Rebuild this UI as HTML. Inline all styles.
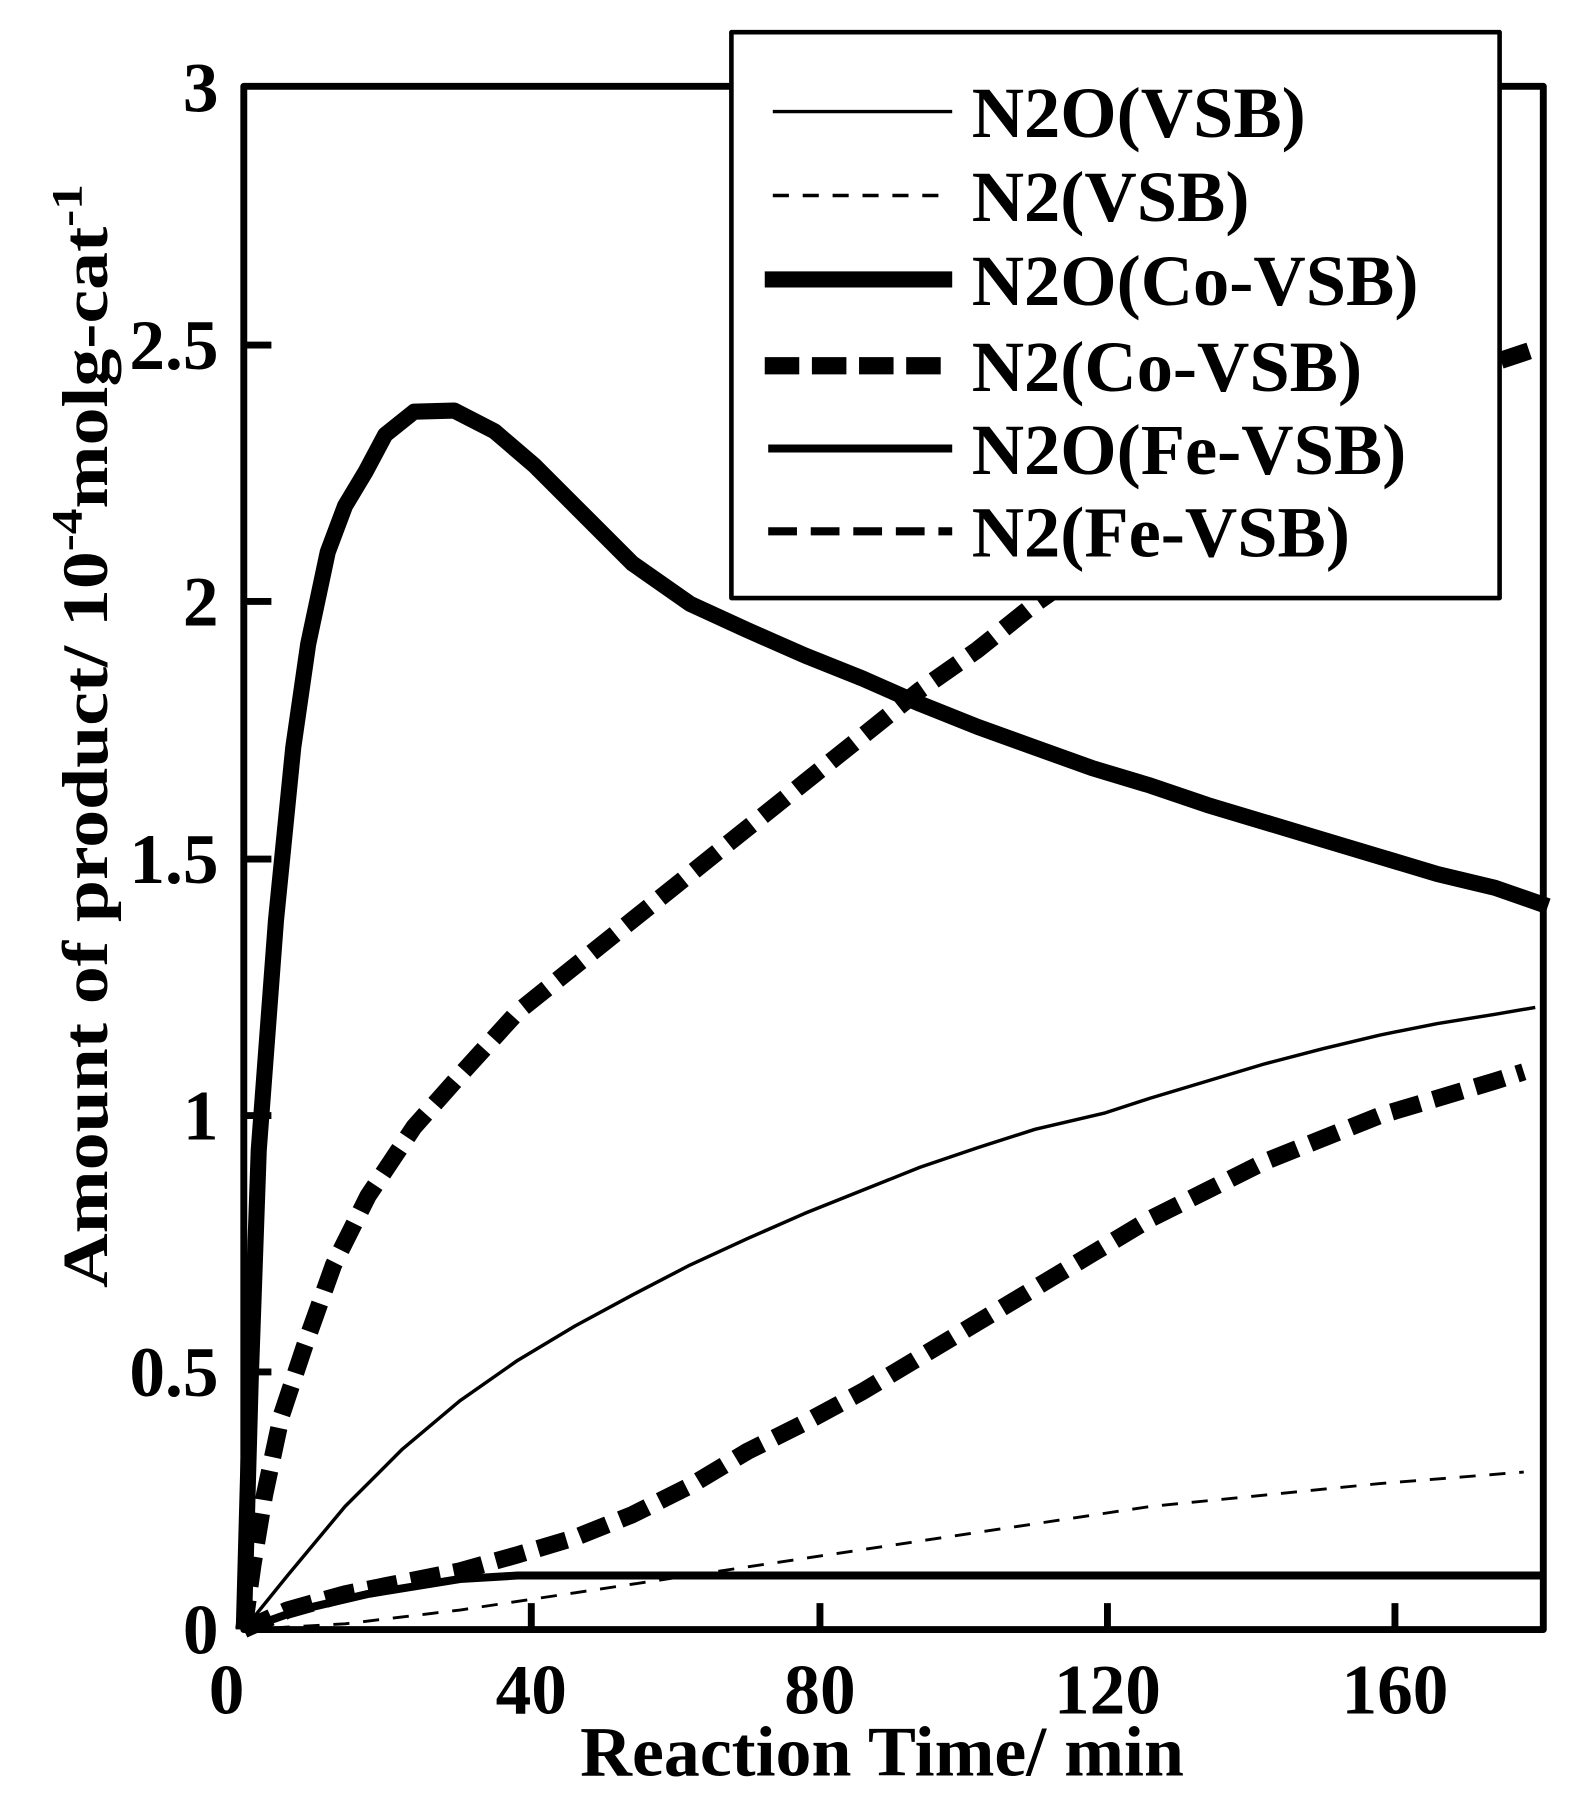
<!DOCTYPE html>
<html><head><meta charset="utf-8"><style>html,body{margin:0;padding:0;background:#fff}svg{display:block}</style></head>
<body>
<svg width="1587" height="1809" viewBox="0 0 1380 1573" xmlns="http://www.w3.org/2000/svg" font-family="'Liberation Serif', serif" font-weight="bold">
<rect x="0" y="0" width="1380" height="1573" fill="#fff"/>
<g fill="none" stroke="#000" stroke-linejoin="round">
<polyline stroke-width="2.5" stroke-dasharray="14 12" points="212,1417 300,1412 400,1400 500,1385 600,1370 700,1355 800,1340 900,1325 1000,1310 1100,1300 1200,1290 1325,1280"/>
<polyline stroke-width="3" points="212,1417 250,1370 300,1310 350,1260 400,1218 450,1183 500,1153 550,1126 600,1100 650,1077 700,1055 750,1035 800,1015 850,998 900,982 960,968 1000,955 1050,940 1100,925 1150,912 1200,900 1250,890 1300,882 1335,876"/>
<polyline stroke-width="7" points="212,1417 260,1400 320,1386 400,1373 450,1370 1342,1370"/>
<polyline stroke-width="15" stroke-dasharray="26 12" points="212,1417 250,1400 300,1386 350,1376 400,1366 450,1352 500,1337 550,1317 600,1292 650,1262 700,1237 750,1210 800,1180 850,1150 900,1120 950,1090 1000,1060 1050,1035 1100,1010 1150,990 1200,970 1250,955 1300,940 1325,932"/>
<polyline stroke-width="15" stroke-dasharray="26 12" points="212,1417 220,1360 230,1300 245,1230 265,1170 290,1100 320,1040 360,980 400,935 450,880 500,840 550,800 600,760 650,720 700,680 750,640 800,600 850,565 900,525 950,490 1000,455 1050,425 1100,400 1150,372 1200,352 1250,332 1300,315 1330,305"/>
<polyline stroke-width="14" points="212,1417 218,1200 225,1000 240,800 255,650 268,560 285,480 300,440 318,410 335,378 360,358 395,357 430,375 465,405 500,440 550,490 600,525 650,548 700,570 750,590 800,612 850,632 900,650 950,668 1000,683 1050,700 1100,715 1150,730 1200,745 1250,760 1300,772 1346,788"/>
<rect x="212" y="75" width="1130" height="1342" stroke-width="6"/>
<path stroke-width="6" d="M212,300H236M212,523H236M212,747H236M212,970H236M212,1193H236M462,1417V1394M713,1417V1394M963,1417V1394M1213,1417V1394"/>
<rect x="636" y="28" width="668" height="492" fill="#fff" stroke-width="4"/>
<line x1="672" y1="97" x2="828" y2="97" stroke-width="3"/>
<line x1="672" y1="170" x2="828" y2="170" stroke-width="3" stroke-dasharray="14 12"/>
<line x1="665" y1="243" x2="828" y2="243" stroke-width="14"/>
<line x1="665" y1="318" x2="828" y2="318" stroke-width="15" stroke-dasharray="30 11"/>
<line x1="668" y1="390" x2="828" y2="390" stroke-width="7"/>
<line x1="668" y1="462" x2="828" y2="462" stroke-width="7" stroke-dasharray="25 12"/>
</g>
<g font-size="63" fill="#000">
<text x="845" y="119">N2O(VSB)</text>
<text x="845" y="192">N2(VSB)</text>
<text x="845" y="265">N2O(Co-VSB)</text>
<text x="845" y="340">N2(Co-VSB)</text>
<text x="845" y="412">N2O(Fe-VSB)</text>
<text x="845" y="484">N2(Fe-VSB)</text>
</g>
<g font-size="62" fill="#000" text-anchor="end">
<text x="190" y="97">3</text>
<text x="190" y="321">2.5</text>
<text x="190" y="544">2</text>
<text x="190" y="768">1.5</text>
<text x="190" y="991">1</text>
<text x="190" y="1214">0.5</text>
<text x="190" y="1438">0</text>
</g>
<g font-size="62" fill="#000" text-anchor="middle">
<text x="197" y="1490">0</text>
<text x="462" y="1490">40</text>
<text x="713" y="1490">80</text>
<text x="963" y="1490">120</text>
<text x="1213" y="1490">160</text>
<text x="767" y="1544" textLength="525" lengthAdjust="spacingAndGlyphs">Reaction Time/ min</text>
</g>
<text transform="translate(93,640) rotate(-90)" font-size="56" text-anchor="middle" textLength="960" lengthAdjust="spacingAndGlyphs">Amount of product/ 10<tspan font-size="38" dy="-22">-4</tspan><tspan dy="22">molg-cat</tspan><tspan font-size="38" dy="-22">-1</tspan></text>
</svg>
</body></html>
